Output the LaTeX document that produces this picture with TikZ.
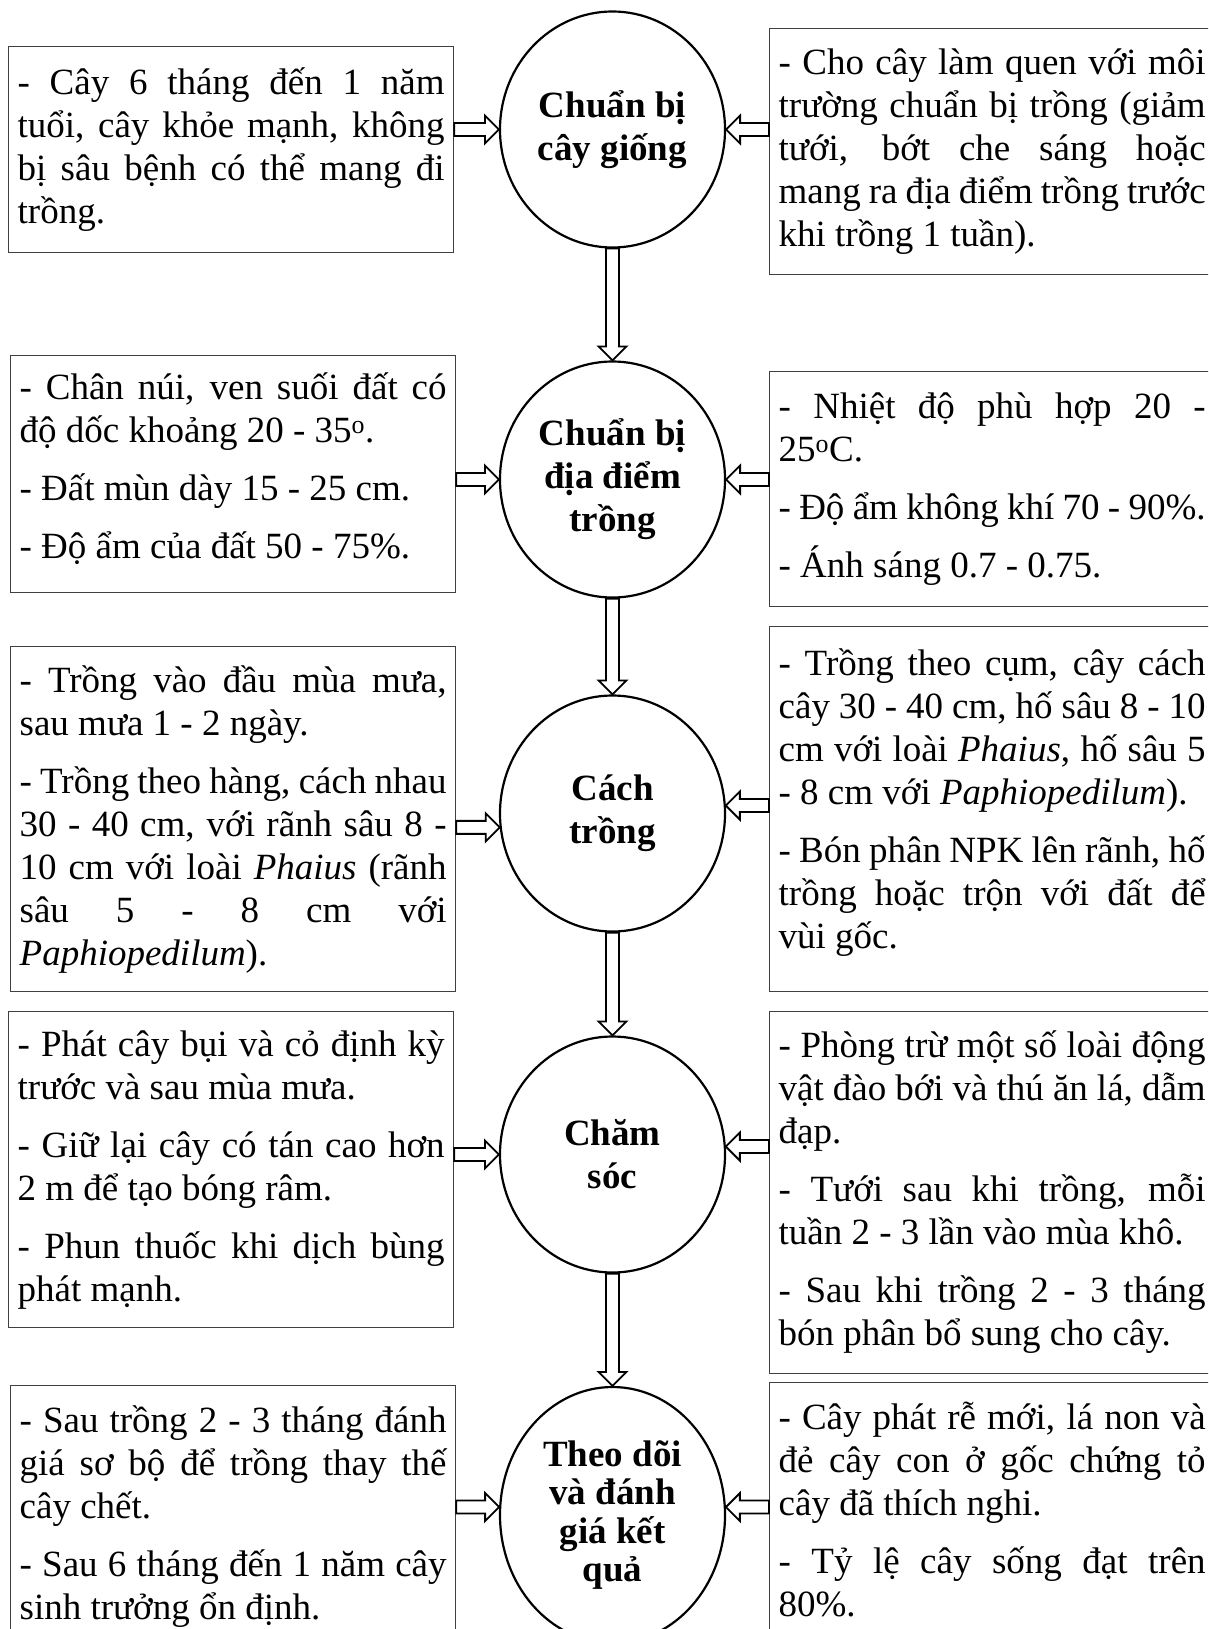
\documentclass[tikz,border=0pt]{standalone}
\usepackage{fontspec}
\setmainfont{Liberation Serif}
\usetikzlibrary{calc,shapes.geometric}
\tolerance=10000
\hyphenpenalty=10000
\exhyphenpenalty=10000
\def\tachdoan{\par\vspace{15pt}}
\def\demduoi#1{\rule[-#1]{0pt}{#1}}
\def\muiten(#1)(#2){\filldraw[muiten] ($(#1)!6.5pt!90:(#2)$) -- ($($(#2)!14pt!(#1)$)!6.5pt!90:(#2)$) -- ($($(#2)!14pt!(#1)$)!14pt!90:(#2)$) -- (#2) -- ($($(#2)!14pt!(#1)$)!14pt!-90:(#2)$) -- ($($(#2)!14pt!(#1)$)!6.5pt!-90:(#2)$) -- ($(#1)!6.5pt!-90:(#2)$) -- cycle;}

\begin{document}
\begin{tikzpicture}[x=1pt,y=1pt,
	hop/.style={draw=black!75, line width=1.3pt, text width=427pt, inner xsep=9pt, inner ysep=0pt, align=justify, anchor=north west, font=\fontsize{37}{43}\selectfont},
	buoc/.style={draw, ellipse, line width=2.2pt, minimum width=225pt, minimum height=236pt, inner sep=0pt, align=center, font=\bfseries\fontsize{37}{43}\selectfont},
	muiten/.style={draw=black, fill=white, line width=1.8pt, line join=miter}]
			%%%%% START %%%%%
			\useasboundingbox (0,0) rectangle (1208,-1629);
			\clip (0,0) rectangle (1208,-1629);
			
			% cac buoc
			\node[buoc] (C1) at (612.5,-129.5) {Chuẩn bị\\cây giống};
			\node[buoc] (C2) at (612.5,-479.5) {Chuẩn bị\\địa điểm\\trồng};
			\node[buoc] (C3) at (612.5,-813.5) {Cách\\trồng};
			\node[buoc] (C4) at (612.5,-1154.5) {Chăm\\sóc};
			\node[buoc, minimum height=256pt, font=\bfseries\fontsize{37}{38.5}\selectfont] (C5) at (612.5,-1515) {Theo dõi\\và đánh\\giá kết\\quả};
			
			% cot trai
			\node[hop, minimum height=206pt] (L1) at (8,-46) {- Cây 6 tháng đến 1 năm\linebreak tuổi, cây khỏe mạnh, không\linebreak bị sâu bệnh có thể mang đi\linebreak trồng.};
			\node[hop, minimum height=237pt] (L2) at (10,-355) {- Chân núi, ven suối đất có\linebreak độ dốc khoảng 20 - 35\textsuperscript{o}.\tachdoan
				- Đất mùn dày 15 - 25 cm.\tachdoan
				- Độ ẩm của đất 50 - 75\%.\demduoi{17pt}};
			\node[hop, minimum height=345pt] (L3) at (10,-646) {- Trồng vào đầu mùa mưa,\linebreak sau mưa 1 - 2 ngày.\tachdoan
				- Trồng theo hàng, cách nhau\linebreak 30 - 40 cm, với rãnh sâu 8 -\linebreak 10 cm với loài \textit{Phaius} (rãnh\linebreak sâu 5 - 8 cm với\linebreak \textit{Paphiopedilum}).};
			\node[hop, minimum height=316pt] (L4) at (8,-1011) {- Phát cây bụi và cỏ định kỳ\linebreak trước và sau mùa mưa.\tachdoan
				- Giữ lại cây có tán cao hơn\linebreak 2 m để tạo bóng râm.\tachdoan
				- Phun thuốc khi dịch bùng\linebreak phát mạnh.};
			\node[hop, minimum height=262pt] (L5) at (10,-1385) {- Sau trồng 2 - 3 tháng đánh\linebreak giá sơ bộ để trồng thay thế\linebreak cây chết.\tachdoan
				- Sau 6 tháng đến 1 năm cây\linebreak sinh trưởng ổn định.};
			
			% cot phai
			\node[hop, minimum height=246pt] (R1) at (769,-28) {- Cho cây làm quen với môi\linebreak trường chuẩn bị trồng (giảm\linebreak tưới, bớt che sáng hoặc\linebreak mang ra địa điểm trồng trước\linebreak khi trồng 1 tuần).};
			\node[hop, minimum height=235pt] (R2) at (769,-371) {- Nhiệt độ phù hợp 20 -\linebreak 25\textsuperscript{o}C.\tachdoan
				- Độ ẩm không khí 70 - 90\%.\tachdoan
				- Ánh sáng 0.7 - 0.75.};
			\node[hop, minimum height=365pt] (R3) at (769,-626) {- Trồng theo cụm, cây cách\linebreak cây 30 - 40 cm, hố sâu 8 - 10\linebreak cm với loài \textit{Phaius}, hố sâu 5\linebreak - 8 cm với \textit{Paphiopedilum}).\tachdoan
				- Bón phân NPK lên rãnh, hố\linebreak trồng hoặc trộn với đất để\linebreak vùi gốc.\demduoi{21pt}};
			\node[hop, minimum height=362pt] (R4) at (769,-1011) {- Phòng trừ một số loài động\linebreak vật đào bới và thú ăn lá, dẫm\linebreak đạp.\tachdoan
				- Tưới sau khi trồng, mỗi\linebreak tuần 2 - 3 lần vào mùa khô.\tachdoan
				- Sau khi trồng 2 - 3 tháng\linebreak bón phân bổ sung cho cây.\demduoi{10pt}};
			\node[hop, minimum height=253pt] (R5) at (769,-1382) {- Cây phát rễ mới, lá non và\linebreak đẻ cây con ở gốc chứng tỏ\linebreak cây đã thích nghi.\tachdoan
				- Tỷ lệ cây sống đạt trên\linebreak 80\%.};
			
			% mui ten ngang
			\coordinate (a1) at (L1.east |- C1.west);
			\coordinate (b1) at (R1.west |- C1.east);
			\coordinate (a2) at (L2.east |- C2.west);
			\coordinate (b2) at (R2.west |- C2.east);
			\coordinate (a3) at (L3.east |- C3.187);
			\coordinate (b3) at (R3.west |- C3.4);
			\coordinate (a4) at (L4.east |- C4.west);
			\coordinate (b4) at (R4.west |- C4.4);
			\coordinate (a5) at (L5.east |- C5.176);
			\coordinate (b5) at (R5.west |- C5.4);
			\muiten(a1)(C1.west) \muiten(b1)(C1.east)
			\muiten(a2)(C2.west) \muiten(b2)(C2.east)
			\muiten(a3)(C3.187) \muiten(b3)(C3.4)
			\muiten(a4)(C4.west) \muiten(b4)(C4.4)
			\muiten(a5)(C5.176) \muiten(b5)(C5.4)
			
			% mui ten doc
			\muiten(C1.south)(C2.north)
			\muiten(C2.south)(C3.north)
			\muiten(C3.south)(C4.north)
			\muiten(C4.south)(C5.north)
			
			%%%%% END %%%%%
\end{tikzpicture}
\end{document}
